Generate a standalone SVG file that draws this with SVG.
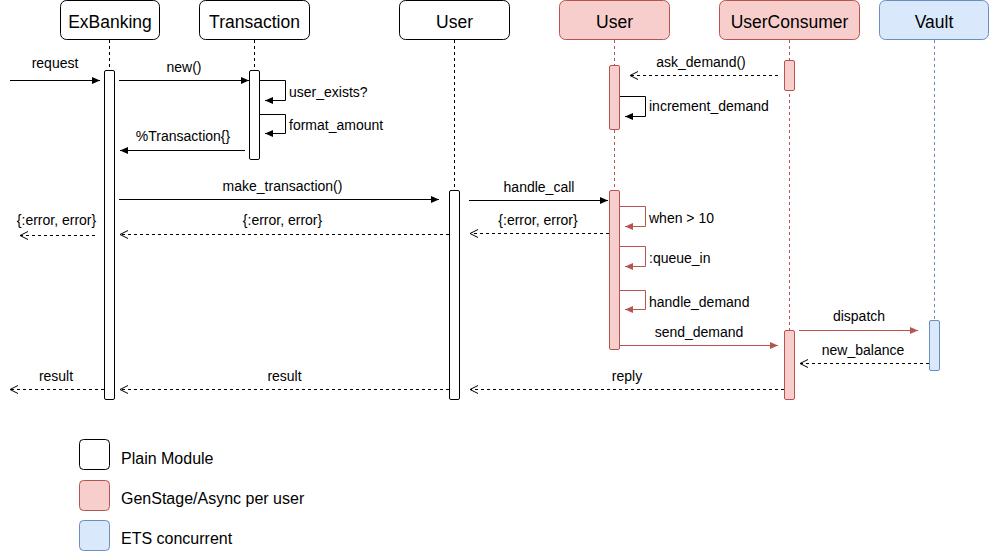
<svg xmlns="http://www.w3.org/2000/svg" width="990" height="552" viewBox="0 0 990 552">
  <style>
    text { font-family: "Liberation Sans", Arial, sans-serif; fill: #000; }
    .head { font-size: 17.5px; text-anchor: middle; }
    .lbl { font-size: 14px; }
    .mid { text-anchor: middle; }
    .leg { font-size: 16px; }
    .plain { fill: #ffffff; stroke: #000000; stroke-width: 1; }
    .stage { fill: #f8cecc; stroke: #b85450; stroke-width: 1; }
    .ets { fill: #dae8fc; stroke: #6c8ebf; stroke-width: 1; }
    .life { fill: none; stroke-width: 1; stroke-dasharray: 3 3; }
    .msg { fill: none; stroke: #000; stroke-width: 1; }
    .msg-red { fill: none; stroke: #b85450; stroke-width: 1; }
    .ret { fill: none; stroke: #000; stroke-width: 1; stroke-dasharray: 3 3; }
  </style>
  <defs>
    <marker id="block" markerUnits="userSpaceOnUse" markerWidth="9" markerHeight="8" refX="8" refY="3.5" orient="auto">
      <path d="M0,0 L8,3.5 L0,7 z" fill="#000"/>
    </marker>
    <marker id="block-red" markerUnits="userSpaceOnUse" markerWidth="9" markerHeight="8" refX="8" refY="3.5" orient="auto">
      <path d="M0,0 L8,3.5 L0,7 z" fill="#b85450"/>
    </marker>
    <marker id="open" markerUnits="userSpaceOnUse" markerWidth="10" markerHeight="10" refX="8.5" refY="4.5" orient="auto">
      <path d="M0.5,0.5 L8.5,4.5 L0.5,8.5" fill="none" stroke="#000" stroke-width="1"/>
    </marker>
  </defs>

  <!-- lifelines -->
  <g id="lifelines">
    <line class="life" x1="109.5" y1="40" x2="109.5" y2="400" stroke="#000"/>
    <line class="life" x1="254.5" y1="40" x2="254.5" y2="160" stroke="#000"/>
    <line class="life" x1="454.5" y1="40" x2="454.5" y2="400" stroke="#000"/>
    <line class="life" x1="614.5" y1="40" x2="614.5" y2="350" stroke="#b85450"/>
    <line class="life" x1="789.5" y1="40" x2="789.5" y2="400" stroke="#b85450"/>
    <line class="life" x1="934.5" y1="40" x2="934.5" y2="370" stroke="#6c8ebf"/>
  </g>

  <!-- participants -->
  <g id="exbanking">
    <rect class="plain" x="60.5" y="0.5" width="99" height="39" rx="6"/>
    <text class="head" x="110" y="28">ExBanking</text>
    <rect class="plain" x="104.5" y="70.5" width="10" height="329" rx="1.5"/>
  </g>
  <g id="transaction">
    <rect class="plain" x="199.5" y="0.5" width="110" height="39" rx="6"/>
    <text class="head" x="254.5" y="28">Transaction</text>
    <rect class="plain" x="249.5" y="70.5" width="10" height="89" rx="1.5"/>
  </g>
  <g id="user">
    <rect class="plain" x="399.5" y="0.5" width="110" height="39" rx="6"/>
    <text class="head" x="454.5" y="28">User</text>
    <rect class="plain" x="449.5" y="190.5" width="10" height="209" rx="1.5"/>
  </g>
  <g id="user-stage">
    <rect class="stage" x="559.5" y="0.5" width="110" height="39" rx="6"/>
    <text class="head" x="614.5" y="28">User</text>
    <rect class="stage" x="609.5" y="65.5" width="10" height="64" rx="1.5"/>
    <rect class="stage" x="609.5" y="190.5" width="10" height="159" rx="1.5"/>
  </g>
  <g id="user-consumer">
    <rect class="stage" x="719.5" y="0.5" width="140" height="39" rx="6"/>
    <text class="head" x="789.5" y="28">UserConsumer</text>
    <rect class="stage" x="784.5" y="60.5" width="10" height="30" rx="1.5"/>
    <rect class="stage" x="784.5" y="330.5" width="10" height="69" rx="1.5"/>
  </g>
  <g id="vault">
    <rect class="ets" x="879.5" y="0.5" width="109" height="39" rx="6"/>
    <text class="head" x="934" y="28">Vault</text>
    <rect class="ets" x="929.5" y="320.5" width="10" height="50" rx="1.5"/>
  </g>

  <!-- messages -->
  <g id="connectors">
    <line class="msg" x1="10" y1="80.5" x2="100" y2="80.5" marker-end="url(#block)"/>
    <line class="msg" x1="119" y1="80.5" x2="249" y2="80.5" marker-end="url(#block)"/>
    <polyline class="msg" points="260,80.5 285.5,80.5 285.5,100.5 265,100.5" marker-end="url(#block)"/>
    <polyline class="msg" points="260,114.5 285.5,114.5 285.5,133.5 265,133.5" marker-end="url(#block)"/>
    <line class="msg" x1="245" y1="150.5" x2="120" y2="150.5" marker-end="url(#block)"/>

    <line class="ret" x1="778" y1="75.5" x2="630" y2="75.5" marker-end="url(#open)"/>
    <polyline class="msg" points="620,96.5 645.5,96.5 645.5,116.5 625,116.5" marker-end="url(#block)"/>

    <line class="msg" x1="119" y1="199.5" x2="439" y2="199.5" marker-end="url(#block)"/>
    <line class="msg" x1="469" y1="200.5" x2="608" y2="200.5" marker-end="url(#block)"/>

    <line class="ret" x1="609" y1="233.5" x2="470" y2="233.5" marker-end="url(#open)"/>
    <line class="ret" x1="449" y1="234.5" x2="120" y2="234.5" marker-end="url(#open)"/>
    <line class="ret" x1="95" y1="235.5" x2="20" y2="235.5" marker-end="url(#open)"/>

    <polyline class="msg-red" points="620,206.5 645.5,206.5 645.5,226.5 625,226.5" marker-end="url(#block-red)"/>
    <polyline class="msg-red" points="620,246.5 645.5,246.5 645.5,266.5 625,266.5" marker-end="url(#block-red)"/>
    <polyline class="msg-red" points="620,290.5 645.5,290.5 645.5,309.5 625,309.5" marker-end="url(#block-red)"/>

    <line class="msg-red" x1="620" y1="345.5" x2="778" y2="345.5" marker-end="url(#block-red)"/>
    <line class="msg-red" x1="799" y1="330.5" x2="918" y2="330.5" marker-end="url(#block-red)"/>
    <line class="ret" x1="929" y1="363.5" x2="800" y2="363.5" marker-end="url(#open)"/>

    <line class="ret" x1="784" y1="389.5" x2="470" y2="389.5" marker-end="url(#open)"/>
    <line class="ret" x1="449" y1="389.5" x2="120" y2="389.5" marker-end="url(#open)"/>
    <line class="ret" x1="104" y1="389.5" x2="10" y2="389.5" marker-end="url(#open)"/>
  </g>

  <!-- message labels -->
  <g id="labels">
    <text class="lbl mid" x="55" y="68">request</text>
    <text class="lbl mid" x="184" y="72">new()</text>
    <text class="lbl" x="289" y="97">user_exists?</text>
    <text class="lbl" x="289" y="130">format_amount</text>
    <text class="lbl mid" x="183" y="141">%Transaction{}</text>
    <text class="lbl mid" x="701" y="67">ask_demand()</text>
    <text class="lbl" x="649" y="111">increment_demand</text>
    <text class="lbl mid" x="282.5" y="191">make_transaction()</text>
    <text class="lbl mid" x="539" y="192">handle_call</text>
    <text class="lbl mid" x="538" y="225">{:error, error}</text>
    <text class="lbl mid" x="282.5" y="225">{:error, error}</text>
    <text class="lbl mid" x="56.5" y="225">{:error, error}</text>
    <text class="lbl" x="649" y="223">when &gt; 10</text>
    <text class="lbl" x="649" y="263">:queue_in</text>
    <text class="lbl" x="649" y="307">handle_demand</text>
    <text class="lbl mid" x="699" y="337">send_demand</text>
    <text class="lbl mid" x="859" y="321">dispatch</text>
    <text class="lbl mid" x="863" y="355">new_balance</text>
    <text class="lbl mid" x="627" y="381">reply</text>
    <text class="lbl mid" x="284.5" y="381">result</text>
    <text class="lbl mid" x="56" y="381">result</text>
  </g>

  <!-- legend -->
  <g id="legend">
    <rect class="plain" x="79.5" y="439.5" width="30" height="30" rx="4"/>
    <text class="leg" x="121" y="464">Plain Module</text>
    <rect class="stage" x="79.5" y="480.5" width="30" height="30" rx="4"/>
    <text class="leg" x="121" y="504">GenStage/Async per user</text>
    <rect class="ets" x="79.5" y="520.5" width="30" height="30" rx="4"/>
    <text class="leg" x="121" y="544">ETS concurrent</text>
  </g>
</svg>
